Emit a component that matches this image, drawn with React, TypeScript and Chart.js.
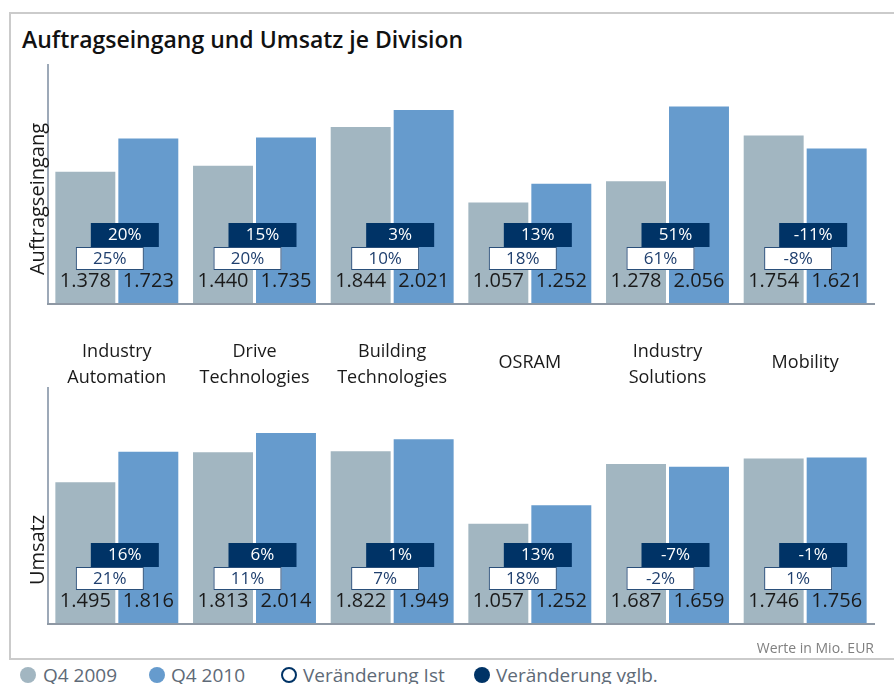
import React, { useEffect, useRef } from "react";
import { Chart, registerables } from "chart.js";

Chart.register(...registerables);

const categories: string[][] = [
  ["Industry", "Automation"],
  ["Drive", "Technologies"],
  ["Building", "Technologies"],
  ["OSRAM"],
  ["Industry", "Solutions"],
  ["Mobility"],
];
const orders2009 = [1378, 1440, 1844, 1057, 1278, 1754];
const orders2010 = [1723, 1735, 2021, 1252, 2056, 1621];
const ordersChangeActual = [25, 20, 10, 18, 61, -8];
const ordersChangeComparable = [20, 15, 3, 13, 51, -11];
const revenue2009 = [1495, 1813, 1822, 1057, 1687, 1746];
const revenue2010 = [1816, 2014, 1949, 1252, 1659, 1756];
const revenueChangeActual = [21, 11, 7, 18, -2, 1];
const revenueChangeComparable = [16, 6, 1, 13, -7, -1];
const seriesNames = ["Q4 2009", "Q4 2010"];
const legendChangeActual = "Veränderung Ist";
const legendChangeComparable = "Veränderung vglb.";
const yMax = 2500;

const GREY = "#a2b6c1";
const BLUE = "#669bcd";
const NAVY = "#003366";
const FONT = "'Open Sans', 'Noto Sans', sans-serif";

const fmt = (v: number) => String(v).replace(/\B(?=(\d{3})+(?!\d))/g, ".");

type PanelProps = {
  top: number;
  height: number;
  padTop: number;
  padBottom: number;
  v2009: number[];
  v2010: number[];
  actual: number[];
  comparable: number[];
  yTitle: string;
  yTitleCenter: number;
  showCategories: boolean;
};

function Panel(p: PanelProps) {
  const ref = useRef<HTMLCanvasElement>(null);
  useEffect(() => {
    if (!ref.current) return;
    const overlay = {
      id: "overlay",
      afterDatasetsDraw(chart: any) {
        const ctx = chart.ctx as CanvasRenderingContext2D;
        const { left, right, top, bottom } = chart.chartArea;
        ctx.save();
        // axes
        ctx.strokeStyle = "#7d8ca1";
        ctx.lineWidth = 1.5;
        ctx.beginPath();
        ctx.moveTo(left, top);
        ctx.lineTo(left, bottom);
        ctx.stroke();
        ctx.strokeStyle = "#8e98a4";
        ctx.lineWidth = 2;
        ctx.beginPath();
        ctx.moveTo(left - 1, bottom);
        ctx.lineTo(right + 1, bottom);
        ctx.stroke();

        // value labels
        ctx.textAlign = "center";
        ctx.textBaseline = "middle";
        ctx.font = `20px ${FONT}`;
        ctx.fillStyle = "#1a1a1a";
        [0, 1].forEach((d) => {
          const meta = chart.getDatasetMeta(d);
          const vals = chart.data.datasets[d].data as number[];
          meta.data.forEach((bar: any, i: number) => {
            ctx.fillText(fmt(vals[i]), bar.x, bar.base - 23);
          });
        });

        // change boxes
        const xs = chart.scales.x;
        ctx.font = `17px ${FONT}`;
        for (let i = 0; i < p.actual.length; i++) {
          const gc = xs.getPixelForValue(i);
          const base = chart.getDatasetMeta(0).data[i].base;
          // navy comparable
          const nx = gc + 8 - 34;
          ctx.fillStyle = NAVY;
          ctx.fillRect(nx, base - 81, 68, 24);
          ctx.fillStyle = "#ffffff";
          ctx.fillText(`${p.comparable[i]}%`, gc + 8, base - 69);
          // white actual
          const wx = gc - 7 - 34;
          ctx.fillStyle = "#ffffff";
          ctx.fillRect(wx, base - 57, 68, 23);
          ctx.strokeStyle = "#2a4f7a";
          ctx.lineWidth = 1;
          ctx.strokeRect(wx + 0.5, base - 56.5, 67, 22);
          ctx.fillStyle = "#1f3f6e";
          ctx.fillText(`${p.actual[i]}%`, gc - 7, base - 45);
        }

        // categories
        if (p.showCategories) {
          ctx.font = `18px ${FONT}`;
          ctx.fillStyle = "#1a1a1a";
          categories.forEach((lines, i) => {
            const x = xs.getPixelForValue(i);
            if (lines.length === 2) {
              ctx.fillText(lines[0], x, bottom + 48);
              ctx.fillText(lines[1], x, bottom + 74);
            } else {
              ctx.fillText(lines[0], x, bottom + 59);
            }
          });
        }

        // y title
        ctx.translate(38, p.yTitleCenter);
        ctx.rotate(-Math.PI / 2);
        ctx.font = `20px ${FONT}`;
        ctx.fillStyle = "#1a1a1a";
        ctx.fillText(p.yTitle, 0, 0);
        ctx.restore();
      },
    };
    const chart = new Chart(ref.current, {
      type: "bar",
      data: {
        labels: categories.map((c) => c.join(" ")),
        datasets: [
          { label: seriesNames[0], data: p.v2009, backgroundColor: GREY, barPercentage: 0.952, categoryPercentage: 0.915 },
          { label: seriesNames[1], data: p.v2010, backgroundColor: BLUE, barPercentage: 0.952, categoryPercentage: 0.915 },
        ],
      },
      options: {
        responsive: false,
        animation: false,
        devicePixelRatio: 1,
        layout: { padding: { left: 48, right: 20, top: p.padTop, bottom: p.padBottom } },
        plugins: { legend: { display: false }, tooltip: { enabled: false }, title: { display: false } },
        scales: {
          x: { display: false },
          y: { display: false, min: 0, max: yMax },
        },
      },
      plugins: [overlay],
    });
    return () => chart.destroy();
  }, []);
  return (
    <canvas
      ref={ref}
      width={894}
      height={p.height}
      style={{ position: "absolute", left: 0, top: p.top, width: 894, height: p.height }}
    />
  );
}

const Dot = ({ x, fill, stroke }: { x: number; fill: string; stroke?: string }) => (
  <div
    style={{
      position: "absolute",
      left: x - 8,
      top: 667,
      width: 16,
      height: 16,
      borderRadius: "50%",
      boxSizing: "border-box",
      background: fill,
      border: stroke ? `2px solid ${stroke}` : "none",
    }}
  />
);

const LegendText = ({ x, text }: { x: number; text: string }) => (
  <div
    style={{
      position: "absolute",
      left: x,
      top: 663,
      font: `19px ${FONT}`,
      lineHeight: "24px",
      color: "#5e6a77",
      whiteSpace: "nowrap",
    }}
  >
    {text}
  </div>
);

export default function App() {
  return (
    <div style={{ position: "absolute", left: 0, top: 0, width: 894, height: 684, overflow: "hidden", background: "#fff" }}>
      <div
        style={{
          position: "absolute",
          left: 9,
          top: 12,
          width: 900,
          height: 648,
          boxSizing: "border-box",
          border: "2px solid #cbcbcb",
        }}
      />
      <div
        style={{
          position: "absolute",
          left: 22,
          top: 24,
          font: `600 23px ${FONT}`,
          lineHeight: "30px",
          color: "#111",
          whiteSpace: "nowrap",
        }}
      >
        Auftragseingang und Umsatz je Division
      </div>
      <Panel
        top={40}
        height={360}
        padTop={24}
        padBottom={96}
        v2009={orders2009}
        v2010={orders2010}
        actual={ordersChangeActual}
        comparable={ordersChangeComparable}
        yTitle="Auftragseingang"
        yTitleCenter={159}
        showCategories={true}
      />
      <Panel
        top={383}
        height={257}
        padTop={4}
        padBottom={16}
        v2009={revenue2009}
        v2010={revenue2010}
        actual={revenueChangeActual}
        comparable={revenueChangeComparable}
        yTitle="Umsatz"
        yTitleCenter={167}
        showCategories={false}
      />
      <div
        style={{
          position: "absolute",
          right: 20,
          top: 638,
          font: `14px ${FONT}`,
          lineHeight: "20px",
          color: "#808080",
          whiteSpace: "nowrap",
        }}
      >
        Werte in Mio. EUR
      </div>
      <Dot x={28} fill={GREY} />
      <LegendText x={43} text={seriesNames[0]} />
      <Dot x={157} fill={BLUE} />
      <LegendText x={171} text={seriesNames[1]} />
      <Dot x={289} fill="#fff" stroke={NAVY} />
      <LegendText x={303} text={legendChangeActual} />
      <Dot x={482} fill={NAVY} />
      <LegendText x={496} text={legendChangeComparable} />
    </div>
  );
}
